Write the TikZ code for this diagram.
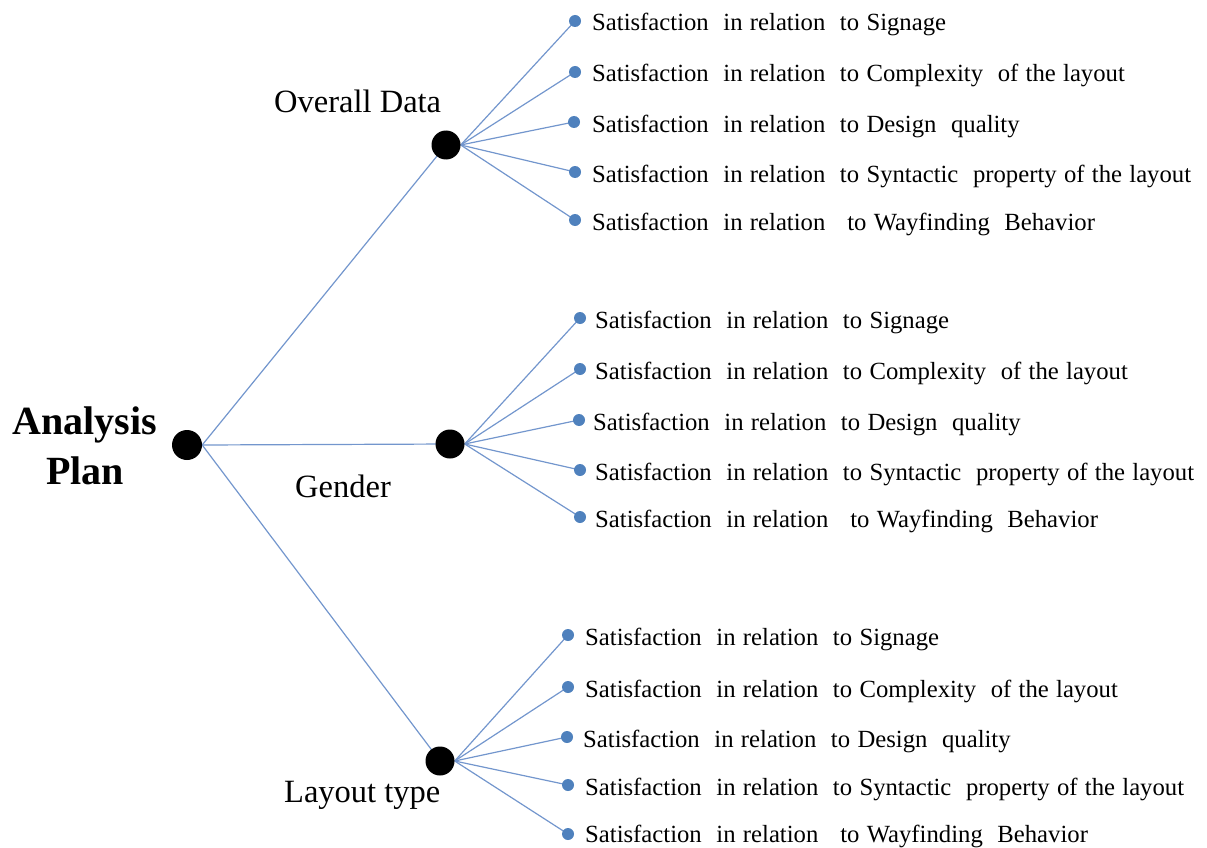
\documentclass[tikz,border=0pt]{standalone}
\usepackage{fontspec}
\setmainfont{Liberation Serif}
\usetikzlibrary{backgrounds}
\definecolor{linecol}{RGB}{115,150,205}
\definecolor{dotcol}{RGB}{79,129,189}
\newcommand\itemfnt{\fontsize{24.7}{28}\selectfont\spaceskip=7.3pt\relax}
\begin{document}
\begin{tikzpicture}[x=1pt,y=-1pt,
  hub/.style={circle,fill=black,inner sep=0pt,minimum size=29pt},
  leaf/.style={circle,fill=dotcol,inner sep=0pt,minimum size=12pt},
  item/.style={anchor=base west,inner sep=0pt,font=\itemfnt},
  cat/.style={anchor=base west,inner sep=0pt,font=\fontsize{32.5}{38}\selectfont},
  conn/.style={draw=linecol,line width=1.2pt}]
\useasboundingbox (0,0) rectangle (1207,848);

% root and hubs
\node[hub,minimum size=30pt] (root) at (187,445) {};
\node[align=center,inner sep=0pt,font=\fontsize{40}{50}\selectfont\bfseries] (ap) at (85,446) {Analysis\\Plan};
\node[hub] (od) at (446,145) {};
\node[hub] (gd) at (450,444) {};
\node[hub] (lt) at (440,761) {};
\node[cat] (odl) at (274,113) {Overall Data};
\node[cat] (gdl) at (295,497) {Gender};
\node[cat] (ltl) at (284,802) {Layout type};

% top group
\node[leaf] (a1) at (575,21) {};
\node[leaf] (a2) at (575,72) {};
\node[leaf] (a3) at (574,122) {};
\node[leaf] (a4) at (575,172) {};
\node[leaf] (a5) at (575,220) {};
\node[item] (ta1) at (592,31) {Satisfaction\ \ in relation\ \ to Signage};
\node[item] (ta2) at (592,82) {Satisfaction\ \ in relation\ \ to Complexity\ \ of the layout};
\node[item] (ta3) at (592,132) {Satisfaction\ \ in relation\ \ to Design\ \ quality};
\node[item] (ta4) at (592,182) {Satisfaction\ \ in relation\ \ to Syntactic\ \ property of the layout};
\node[item] (ta5) at (592,230) {Satisfaction\ \ in relation\ \ \ to Wayfinding\ \ Behavior};

% middle group
\node[leaf] (b1) at (580,318) {};
\node[leaf] (b2) at (580,369) {};
\node[leaf] (b3) at (579,420) {};
\node[leaf] (b4) at (580,470) {};
\node[leaf] (b5) at (580,517) {};
\node[item] (tb1) at (595,328) {Satisfaction\ \ in relation\ \ to Signage};
\node[item] (tb2) at (595,379) {Satisfaction\ \ in relation\ \ to Complexity\ \ of the layout};
\node[item] (tb3) at (593,430) {Satisfaction\ \ in relation\ \ to Design\ \ quality};
\node[item] (tb4) at (595,480) {Satisfaction\ \ in relation\ \ to Syntactic\ \ property of the layout};
\node[item] (tb5) at (595,527) {Satisfaction\ \ in relation\ \ \ to Wayfinding\ \ Behavior};

% bottom group
\node[leaf] (c1) at (568,635) {};
\node[leaf] (c2) at (568,687) {};
\node[leaf] (c3) at (567,737) {};
\node[leaf] (c4) at (568,785) {};
\node[leaf] (c5) at (568,834) {};
\node[item] (tc1) at (585,645) {Satisfaction\ \ in relation\ \ to Signage};
\node[item] (tc2) at (585,697) {Satisfaction\ \ in relation\ \ to Complexity\ \ of the layout};
\node[item] (tc3) at (583,747) {Satisfaction\ \ in relation\ \ to Design\ \ quality};
\node[item] (tc4) at (585,795) {Satisfaction\ \ in relation\ \ to Syntactic\ \ property of the layout};
\node[item] (tc5) at (585,842) {Satisfaction\ \ in relation\ \ \ to Wayfinding\ \ Behavior};

\begin{scope}[on background layer]
\draw[conn] (root.east) -- (od.center);
\draw[conn] (root.east) -- (gd.center);
\draw[conn] (root.east) -- (lt.center);
\foreach \i in {1,...,5}{
  \draw[conn] (od.east) -- (a\i.center);
  \draw[conn] (gd.east) -- (b\i.center);
  \draw[conn] (lt.east) -- (c\i.center);
}
\end{scope}
\end{tikzpicture}
\end{document}
